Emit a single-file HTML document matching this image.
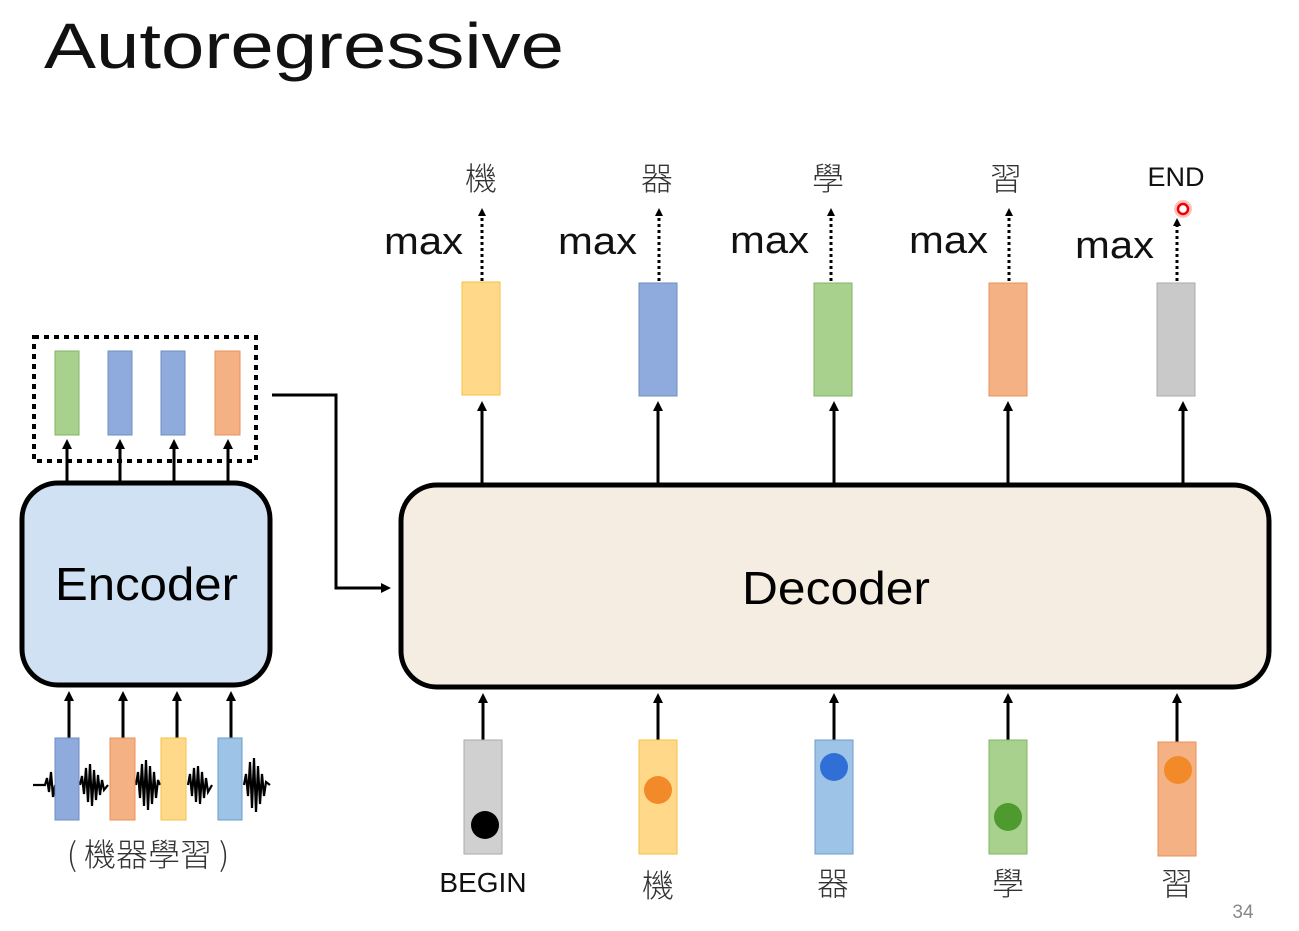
<!DOCTYPE html>
<html><head><meta charset="utf-8"><style>
html,body{margin:0;padding:0;background:#fff;width:1299px;height:931px;overflow:hidden}
svg text{font-family:"Liberation Sans","Noto Sans CJK TC",sans-serif}
.cjk{font-family:"Noto Sans CJK TC","Liberation Sans",sans-serif;font-weight:300}
</style></head><body>
<svg width="1299" height="931" viewBox="0 0 1299 931" xmlns="http://www.w3.org/2000/svg">
<defs>
<marker id="ah" markerWidth="10" markerHeight="10" refX="5" refY="5" orient="auto" markerUnits="userSpaceOnUse"><path d="M0,0 L10,5 L0,10 Z" fill="#000"/></marker>
<marker id="as" markerWidth="8" markerHeight="8" refX="4" refY="4" orient="auto" markerUnits="userSpaceOnUse"><path d="M0,0 L8,4 L0,8 Z" fill="#000"/></marker>
</defs>
<text x="44" y="68" font-size="64" fill="#111" textLength="520" lengthAdjust="spacingAndGlyphs">Autoregressive</text>

<!-- Encoder -->
<rect x="22" y="483" width="248" height="202" rx="36" fill="#cfe1f2" stroke="#000" stroke-width="5"/>
<text x="55" y="600" font-size="46" textLength="183" lengthAdjust="spacingAndGlyphs">Encoder</text>
<rect x="34" y="337" width="222" height="124" fill="none" stroke="#000" stroke-width="4" stroke-dasharray="5,5"/>
<rect x="55" y="351" width="24" height="84" fill="#a9d18e" stroke="#82b366"/>
<rect x="108" y="351" width="24" height="84" fill="#8faadc" stroke="#6c8ebf"/>
<rect x="161" y="351" width="24" height="84" fill="#8faadc" stroke="#6c8ebf"/>
<rect x="215" y="351" width="25" height="84" fill="#f4b183" stroke="#e8915a"/>
<g stroke="#000" stroke-width="3">
<line x1="67" y1="482" x2="67" y2="444" marker-end="url(#ah)"/>
<line x1="120" y1="482" x2="120" y2="444" marker-end="url(#ah)"/>
<line x1="174" y1="482" x2="174" y2="444" marker-end="url(#ah)"/>
<line x1="228" y1="482" x2="228" y2="444" marker-end="url(#ah)"/>
<line x1="69" y1="738" x2="69" y2="696" marker-end="url(#ah)"/>
<line x1="123" y1="738" x2="123" y2="696" marker-end="url(#ah)"/>
<line x1="177" y1="738" x2="177" y2="696" marker-end="url(#ah)"/>
<line x1="231" y1="738" x2="231" y2="696" marker-end="url(#ah)"/>
</g>
<!-- waveform -->
<path d="M33,785 L45,785 L47,778 L49,792 L51,772 L53,797 L55,785 M80,785 L82,776 L84,794 L86,768 L88,802 L90,764 L92,806 L94,770 L96,800 L98,775 L100,795 L102,780 L104,790 L108,785 M136,785 L138,772 L140,798 L142,764 L144,806 L146,760 L148,810 L150,766 L152,804 L154,772 L156,798 L158,780 L160,785 M188,785 L190,774 L192,796 L194,768 L196,802 L198,766 L200,804 L202,772 L204,798 L206,778 L208,792 L212,785 M244,785 L246,774 L248,796 L250,762 L252,808 L254,758 L256,812 L258,766 L260,804 L262,774 L264,796 L266,782 L270,785" fill="none" stroke="#000" stroke-width="2.2"/>
<rect x="55" y="738" width="24" height="82" fill="#8faadc" stroke="#6c8ebf"/>
<rect x="110" y="738" width="25" height="82" fill="#f4b183" stroke="#e8915a"/>
<rect x="161" y="738" width="25" height="82" fill="#ffd88a" stroke="#f5c242"/>
<rect x="218" y="738" width="24" height="82" fill="#9dc3e6" stroke="#6c9ec9"/>
<text x="148" y="866" font-size="32" text-anchor="middle" class="cjk" fill="#333">( 機器學習 )</text>

<!-- connector -->
<polyline points="272,395 336,395 336,588 386,588" fill="none" stroke="#000" stroke-width="3" marker-end="url(#ah)"/>

<!-- Decoder -->
<rect x="401" y="485" width="868" height="202" rx="36" fill="#f5ede2" stroke="#000" stroke-width="5"/>
<text x="742" y="604" font-size="46" textLength="188" lengthAdjust="spacingAndGlyphs">Decoder</text>

<!-- outputs -->
<rect x="462" y="282" width="38" height="113" fill="#ffd88a" stroke="#f5c242"/>
<rect x="639" y="283" width="38" height="113" fill="#8faadc" stroke="#6c8ebf"/>
<rect x="814" y="283" width="38" height="113" fill="#a9d18e" stroke="#82b366"/>
<rect x="989" y="283" width="38" height="113" fill="#f4b183" stroke="#e8915a"/>
<rect x="1157" y="283" width="38" height="113" fill="#c9c9c9" stroke="#aaa"/>
<g stroke="#000" stroke-width="3">
<line x1="482" y1="484" x2="482" y2="406" marker-end="url(#ah)"/>
<line x1="658" y1="484" x2="658" y2="406" marker-end="url(#ah)"/>
<line x1="834" y1="484" x2="834" y2="406" marker-end="url(#ah)"/>
<line x1="1008" y1="484" x2="1008" y2="406" marker-end="url(#ah)"/>
<line x1="1183" y1="484" x2="1183" y2="406" marker-end="url(#ah)"/>
</g>
<g stroke="#000" stroke-width="3" stroke-dasharray="3,3">
<line x1="482" y1="281" x2="482" y2="212" marker-end="url(#as)"/>
<line x1="659" y1="281" x2="659" y2="212" marker-end="url(#as)"/>
<line x1="831" y1="281" x2="831" y2="212" marker-end="url(#as)"/>
<line x1="1009" y1="281" x2="1009" y2="212" marker-end="url(#as)"/>
<line x1="1177" y1="281" x2="1177" y2="222" marker-end="url(#as)"/>
</g>
<g font-size="38" fill="#111">
<text x="384" y="254" textLength="79" lengthAdjust="spacingAndGlyphs">max</text>
<text x="558" y="254" textLength="79" lengthAdjust="spacingAndGlyphs">max</text>
<text x="730" y="253" textLength="79" lengthAdjust="spacingAndGlyphs">max</text>
<text x="909" y="253" textLength="79" lengthAdjust="spacingAndGlyphs">max</text>
<text x="1075" y="258" textLength="79" lengthAdjust="spacingAndGlyphs">max</text>
</g>
<g font-size="32" class="cjk" text-anchor="middle" fill="#333">
<text x="481" y="190">機</text>
<text x="657" y="190">器</text>
<text x="828" y="190">學</text>
<text x="1006" y="190">習</text>
</g>
<text x="1176" y="186" font-size="27" text-anchor="middle" fill="#111">END</text>
<circle cx="1183" cy="209" r="9" fill="#ff9a9a" opacity="0.6"/>
<circle cx="1183" cy="209" r="5" fill="#fff" stroke="#e00" stroke-width="2.5"/>

<!-- inputs -->
<g stroke="#000" stroke-width="3">
<line x1="483" y1="740" x2="483" y2="698" marker-end="url(#ah)"/>
<line x1="658" y1="740" x2="658" y2="698" marker-end="url(#ah)"/>
<line x1="834" y1="740" x2="834" y2="698" marker-end="url(#ah)"/>
<line x1="1008" y1="740" x2="1008" y2="698" marker-end="url(#ah)"/>
<line x1="1177" y1="742" x2="1177" y2="698" marker-end="url(#ah)"/>
</g>
<rect x="464" y="740" width="38" height="114" fill="#d0d0d0" stroke="#aaa"/>
<rect x="639" y="740" width="38" height="114" fill="#ffd88a" stroke="#f5c242"/>
<rect x="815" y="740" width="38" height="114" fill="#9dc3e6" stroke="#6c9ec9"/>
<rect x="989" y="740" width="38" height="114" fill="#a9d18e" stroke="#82b366"/>
<rect x="1158" y="742" width="38" height="114" fill="#f4b183" stroke="#e8915a"/>
<circle cx="485" cy="825" r="14" fill="#000"/>
<circle cx="658" cy="790" r="14" fill="#f28a2a"/>
<circle cx="834" cy="767" r="14" fill="#2f6fd6"/>
<circle cx="1008" cy="817" r="14" fill="#4f9a2e"/>
<circle cx="1178" cy="770" r="14" fill="#f28a2a"/>
<text x="483" y="892" font-size="28" text-anchor="middle" fill="#111">BEGIN</text>
<g font-size="32" class="cjk" text-anchor="middle" fill="#333">
<text x="658" y="897">機</text>
<text x="833" y="895">器</text>
<text x="1008" y="895">學</text>
<text x="1177" y="895">習</text>
</g>
<text x="1243" y="918" font-size="19" text-anchor="middle" fill="#888">34</text>
</svg>
</body></html>
